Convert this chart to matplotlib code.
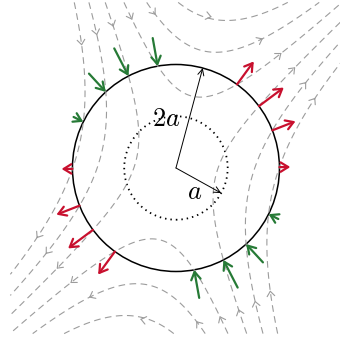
import numpy as np
import matplotlib
matplotlib.use("Agg")
import matplotlib.pyplot as plt
from matplotlib.patches import Circle, FancyArrowPatch

plt.rcParams["mathtext.fontset"] = "cm"
plt.rcParams["lines.dashed_pattern"] = [6.0, 4.0]

# ── linear flow: stretching along out_dir, compression along in_dir ──
out_dir = 43.0      # degrees
in_dir = 111.0      # degrees
strain = 0.815

# streamfunction values that are drawn
levels = [-2.4, -1.4, -0.4, 0.6, 1.6, 2.6]
# length of the normal-velocity arrows on the r = 2a circle, per streamline
arrow_len = {0.6: 0.55, -0.4: 0.60, -1.4: 0.48, -2.4: 0.21}

a = 1.0
r_outer = 2 * a
r_marks = 3 * a          # flow-direction ticks where streamlines cross this radius
box = 3.2                # streamlines are drawn in [-box, box]^2

ang_big = 75.0           # direction of the 2a radius
ang_small = -29.0        # direction of the a radius

GREY = "#9c9c9c"
GREEN = "#267a36"
RED = "#c8102e"

e1 = np.array([np.cos(np.radians(out_dir)), np.sin(np.radians(out_dir))])
e2 = np.array([np.cos(np.radians(in_dir)), np.sin(np.radians(in_dir))])
Minv = np.linalg.inv(np.column_stack([e1, e2]))


def to_eig(x, y):
    xi = Minv[0, 0] * x + Minv[0, 1] * y
    eta = Minv[1, 0] * x + Minv[1, 1] * y
    return xi, eta


def psi(x, y):
    xi, eta = to_eig(x, y)
    return strain * xi * eta


def velocity(x, y):
    xi, eta = to_eig(x, y)
    return xi * e1 - eta * e2


def crossings(r, level, merge_deg=15.0):
    th = np.linspace(0, 2 * np.pi, 7201)
    f = psi(r * np.cos(th), r * np.sin(th)) - level
    idx = np.where(np.sign(f[:-1]) != np.sign(f[1:]))[0]
    out = [th[i] - f[i] * (th[i + 1] - th[i]) / (f[i + 1] - f[i]) for i in idx]
    # a streamline that only grazes the circle gets one tick, not two
    merged = []
    for t in out:
        if merged and abs(t - merged[-1]) < np.radians(merge_deg):
            merged[-1] = 0.5 * (merged[-1] + t)
        else:
            merged.append(t)
    return merged


fig = plt.figure(figsize=(3.4, 3.47), dpi=100)
ax = fig.add_axes([0, 0, 1, 1])
ax.set_xlim(-3.40, 3.17)
ax.set_ylim(-3.459, 3.246)
ax.axis("off")

# streamlines
g = np.linspace(-box, box, 801)
X, Y = np.meshgrid(g, g)
ax.contour(X, Y, psi(X, Y), levels=sorted(levels), colors=GREY,
           linewidths=0.8, linestyles="dashed")

# flow-direction chevrons on the streamlines
h = 0.12
for L in levels:
    for t in crossings(r_marks, L):
        p = r_marks * np.array([np.cos(t), np.sin(t)])
        d = velocity(*p)
        d = d / np.hypot(*d)
        for s in (+1, -1):
            c, sn = np.cos(np.radians(38) * s), np.sin(np.radians(38) * s)
            arm = np.array([c * d[0] - sn * d[1], sn * d[0] + c * d[1]])
            q = p - h * arm
            ax.plot([q[0], p[0]], [q[1], p[1]], color=GREY, lw=0.8,
                    solid_capstyle="round")

# circles
ax.add_patch(Circle((0, 0), r_outer, fill=False, color="black", lw=1.1))
ax.add_patch(Circle((0, 0), a, fill=False, color="black", lw=1.3,
                    ls=(0, (0.8, 2.2))))

# normal velocity where the streamlines cross r = 2a
for L in levels:
    if L not in arrow_len:
        continue
    for t in crossings(r_outer, L, merge_deg=0):
        n = np.array([np.cos(t), np.sin(t)])
        p = r_outer * n
        un = velocity(*p) @ n
        tip = p + arrow_len[L] * n
        if un > 0:
            start, end, col = p, tip, RED
        else:
            start, end, col = tip, p, GREEN
        ax.add_patch(FancyArrowPatch(start, end, color=col, lw=1.6,
                                     arrowstyle="->,head_length=5.5,head_width=3.4",
                                     shrinkA=0, shrinkB=0, zorder=5))

# radii
for ang, r in ((ang_big, r_outer), (ang_small, a)):
    end = r * np.array([np.cos(np.radians(ang)), np.sin(np.radians(ang))])
    ax.add_patch(FancyArrowPatch((0, 0), end, color="black", lw=0.7,
                                 arrowstyle="->,head_length=4.5,head_width=2.2",
                                 shrinkA=0, shrinkB=0, zorder=6))

ax.text(-0.19, 0.95, "$2a$", fontsize=19, ha="center", va="center")
ax.text(0.36, -0.46, "$a$", fontsize=19, ha="center", va="center")

fig.savefig("out.png", dpi=100)
